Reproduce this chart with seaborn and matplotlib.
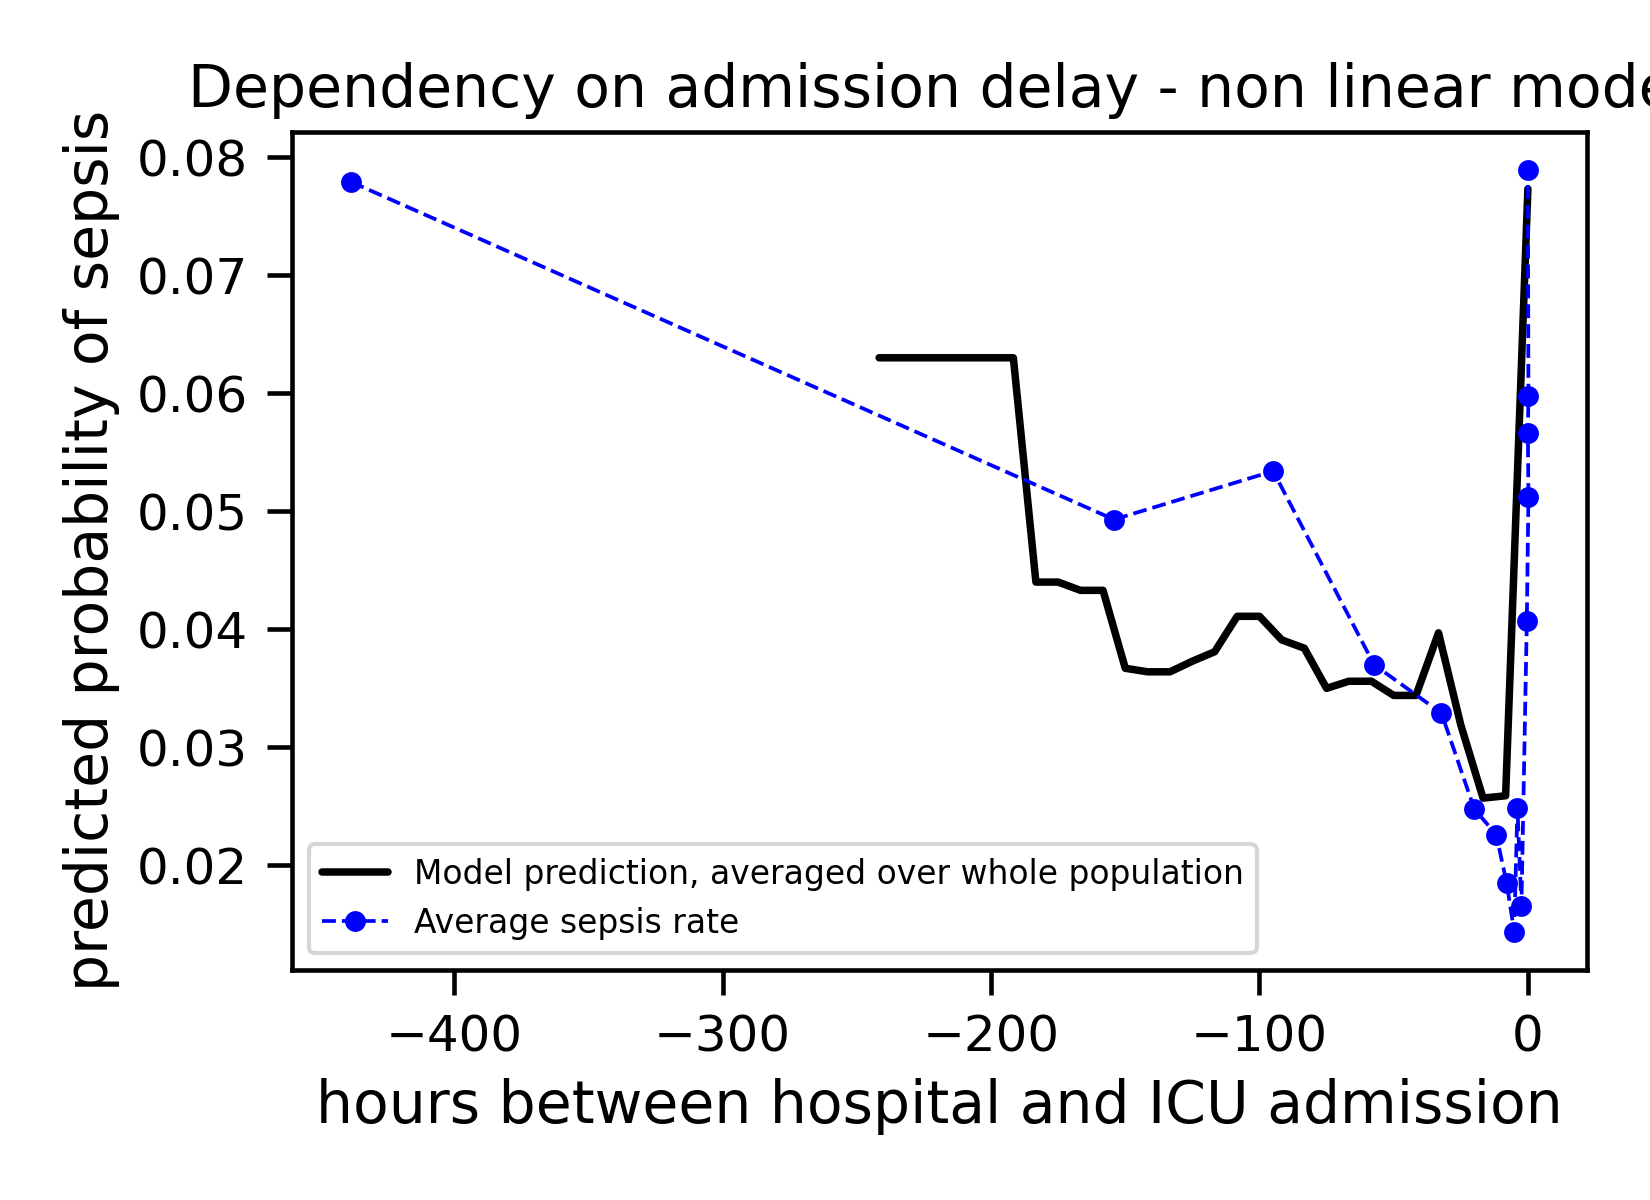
"""Dependency of predicted sepsis probability on admission delay."""
import matplotlib
matplotlib.use('Agg')
import matplotlib.pyplot as plt
import pandas as pd
import seaborn as sns

# model prediction averaged over whole population
model_hours = [-241.7, -233.3, -225.0, -216.7, -208.3, -200.0, -191.7, -183.3,
               -175.0, -166.7, -158.3, -150.0, -141.7, -133.3, -125.0, -116.7,
               -108.3, -100.0, -91.7, -83.3, -75.0, -66.7, -58.3, -50.0,
               -41.7, -33.3, -25.0, -16.7, -8.3, 0.0]
model_prob = [0.0630, 0.0630, 0.0630, 0.0630, 0.0630, 0.0630, 0.0630, 0.0440,
              0.0440, 0.0433, 0.0433, 0.0367, 0.0364, 0.0364, 0.0373, 0.0381,
              0.0411, 0.0411, 0.0391, 0.0384, 0.0350, 0.0356, 0.0356, 0.0344,
              0.0344, 0.0397, 0.0319, 0.0257, 0.0259, 0.0773]

# observed average sepsis rate per delay bin
rate_hours = [-438.5, -154.2, -94.9, -57.3, -32.2, -20.0, -11.8, -7.9, -5.1,
              -3.9, -2.4, -0.4, 0.2, 0.0, 0.2, 0.0]
rate_prob = [0.0779, 0.0493, 0.0534, 0.0370, 0.0329, 0.0248, 0.0226, 0.0185,
             0.0144, 0.0249, 0.0166, 0.0407, 0.0512, 0.0566, 0.0598, 0.0789]

df_model = pd.DataFrame({'hours': model_hours, 'prob': model_prob})
df_rate = pd.DataFrame({'hours': rate_hours, 'prob': rate_prob})

sns.set_style('ticks', {'axes.edgecolor': 'black', 'text.color': 'black',
                        'axes.labelcolor': 'black', 'xtick.color': 'black',
                        'ytick.color': 'black'})
plt.rcParams['font.family'] = ['DejaVu Sans']
plt.rcParams['axes.linewidth'] = 1.1
plt.rcParams['xtick.major.size'] = 6
plt.rcParams['ytick.major.size'] = 6
plt.rcParams['xtick.major.width'] = 1.1
plt.rcParams['ytick.major.width'] = 1.1
plt.rcParams['xtick.major.pad'] = 4.5
plt.rcParams['ytick.major.pad'] = 4.5

fig, ax = plt.subplots(figsize=(5.5, 4), dpi=300)
sns.lineplot(data=df_model, x='hours', y='prob', color='black', linewidth=1.8,
             estimator=None, sort=False,
             label='Model prediction, averaged over whole population', ax=ax)
sns.lineplot(data=df_rate, x='hours', y='prob', color='blue', linewidth=0.9,
             linestyle='--', marker='o', markersize=5, markeredgewidth=0,
             estimator=None, sort=False, label='Average sepsis rate', ax=ax)

ax.set_title('Dependency on admission delay - non linear model', fontsize=14)
ax.set_xlabel('hours between hospital and ICU admission', fontsize=14)
ax.set_ylabel('predicted probability of sepsis', fontsize=14)
ax.tick_params(labelsize=12)
ax.legend(loc='lower left', fontsize=7.9)

fig.subplots_adjust(left=0.177, right=0.962, top=0.890, bottom=0.192)
plt.savefig('out.png', dpi=300)
plt.close()
